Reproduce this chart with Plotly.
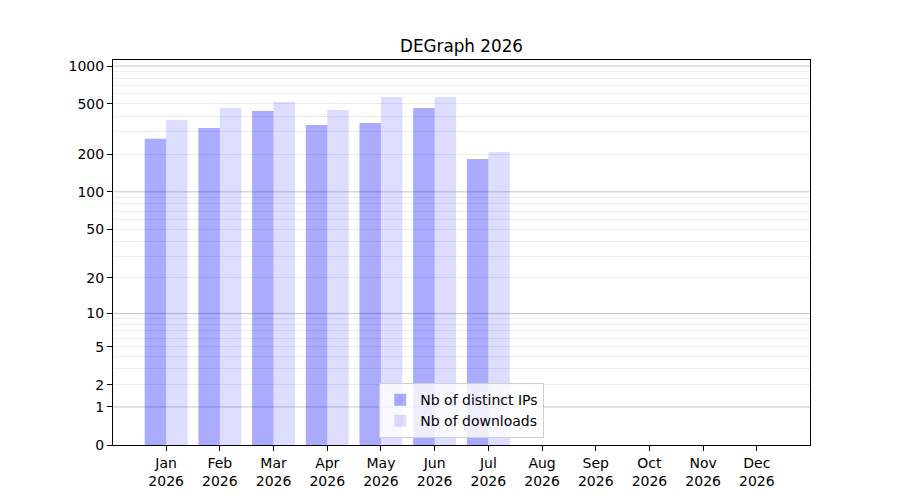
import numpy as np
import plotly.graph_objects as go

months = ["Jan", "Feb", "Mar", "Apr", "May", "Jun", "Jul", "Aug", "Sep", "Oct", "Nov", "Dec"]
year = "2026"
distinct_ips = [265, 323, 440, 341, 353, 465, 183]
downloads = [373, 465, 519, 448, 568, 568, 208]
ytick_values = [0, 1, 2, 5, 10, 20, 50, 100, 200, 500, 1000]
major_grid_values = [1, 10, 100, 1000]
minor_grid_values = [2, 3, 4, 5, 6, 7, 8, 9, 20, 30, 40, 50, 60, 70, 80, 90,
                     200, 300, 400, 500, 600, 700, 800, 900]


def tf(v):
    return np.log10(1 + np.asarray(v, dtype=float))


xi_ips = list(range(len(distinct_ips)))
xi_dl = list(range(len(downloads)))

fig = go.Figure()
fig.add_trace(go.Bar(
    x=xi_ips, y=tf(distinct_ips), width=0.4, offset=-0.4,
    marker=dict(color="rgba(0,0,255,0.333)", line=dict(width=0)),
    name="Nb of distinct IPs",
))
fig.add_trace(go.Bar(
    x=xi_dl, y=tf(downloads), width=0.4, offset=0,
    marker=dict(color="rgba(0,0,255,0.133)", line=dict(width=0)),
    name="Nb of downloads",
))

# major gridlines (darker), drawn against the y axis scale
for gv in tf(major_grid_values):
    fig.add_shape(type="line", xref="paper", x0=0, x1=1, yref="y", y0=gv, y1=gv,
                  line=dict(color="#c8c8c8", width=1), layer="below")

yrange = [0, 3.048]
font = "DejaVu Sans, Liberation Sans, sans-serif"

fig.update_layout(
    width=900, height=500,
    margin=dict(l=113, r=90, t=60, b=55),
    paper_bgcolor="white", plot_bgcolor="white",
    barmode="overlay",
    font=dict(family=font, size=14, color="black"),
    title=dict(text="DEGraph 2026", x=461.5 / 900, xanchor="center",
               y=1 - 46 / 500, yanchor="middle", yref="container",
               font=dict(size=16.8, family=font, color="black")),
    xaxis=dict(
        range=[-0.99, 11.99],
        tickmode="array",
        tickvals=list(range(len(months))),
        ticktext=[f"{m}<br>{year}" for m in months],
        showgrid=False, zeroline=False,
        showline=True, mirror=True, linecolor="black", linewidth=1,
        ticks="outside", ticklen=5, tickcolor="black",
        tickfont=dict(size=14),
    ),
    yaxis=dict(
        range=yrange,
        tickmode="array",
        tickvals=list(tf(ytick_values)),
        ticktext=[str(v) for v in ytick_values],
        showgrid=False, zeroline=False,
        showline=True, mirror=True, linecolor="black", linewidth=1,
        ticks="outside", ticklen=5, tickcolor="black",
        tickfont=dict(size=14),
        minor=dict(tickmode="array", tickvals=list(tf(minor_grid_values)),
                   showgrid=True, gridcolor="#ececec", gridwidth=1, ticks=""),
    ),
    legend=dict(
        x=0.382, y=0.018, xanchor="left", yanchor="bottom",
        bgcolor="rgba(255,255,255,0.8)", bordercolor="#d0d0d0", borderwidth=1,
        font=dict(size=14, family=font),
        traceorder="normal",
    ),
)

fig.write_html("out.html", config={"displayModeBar": False},
               post_script="document.body.style.margin='0';")
